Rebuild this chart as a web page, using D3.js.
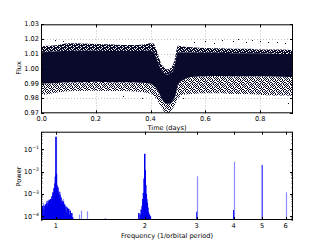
<!DOCTYPE html>
<html><head><meta charset="utf-8">
<script src="https://cdn.jsdelivr.net/npm/d3@7"></script>
<style>
body{margin:0;background:#fff;}
svg{display:block;font-family:"DejaVu Sans",sans-serif;}
</style></head>
<body><svg id="c" width="325" height="245"></svg>
<script>
// ---------- Top panel: light curve envelope ----------
const phase      = [0.00,0.03,0.06,0.10,0.15,0.20,0.25,0.30,0.35,0.38,0.40,0.41,0.42,0.43,0.44,0.45,0.46,0.47,0.48,0.49,0.495,0.50,0.52,0.55,0.60,0.65,0.70,0.75,0.80,0.85,0.90,0.92];
const upperOuter = [1.0150,1.0155,1.0160,1.0172,1.0170,1.0168,1.0165,1.0160,1.0160,1.0165,1.0172,1.0170,1.0135,1.0080,1.0030,1.0010,0.9995,1.0000,1.0020,1.0080,1.0130,1.0155,1.0150,1.0145,1.0140,1.0138,1.0135,1.0135,1.0130,1.0130,1.0128,1.0125];
const upperCore  = [1.0110,1.0115,1.0118,1.0120,1.0122,1.0122,1.0120,1.0120,1.0120,1.0122,1.0120,1.0115,1.0080,1.0030,0.9990,0.9970,0.9960,0.9970,0.9980,1.0040,1.0090,1.0110,1.0110,1.0110,1.0108,1.0108,1.0105,1.0105,1.0105,1.0102,1.0100,1.0100];
const lowerCore  = [0.9900,0.9902,0.9905,0.9910,0.9910,0.9912,0.9910,0.9910,0.9908,0.9905,0.9900,0.9890,0.9870,0.9840,0.9800,0.9775,0.9765,0.9765,0.9785,0.9815,0.9855,0.9895,0.9925,0.9945,0.9950,0.9952,0.9950,0.9950,0.9950,0.9948,0.9945,0.9945];
const lowerOuter = [0.9825,0.9830,0.9840,0.9848,0.9850,0.9852,0.9850,0.9850,0.9845,0.9840,0.9830,0.9820,0.9800,0.9770,0.9740,0.9710,0.9700,0.9705,0.9730,0.9760,0.9780,0.9800,0.9825,0.9830,0.9835,0.9835,0.9830,0.9830,0.9825,0.9820,0.9820,0.9815];
const strayPhase = [0.56,0.60,0.63,0.66,0.70,0.72,0.75,0.77,0.80,0.83,0.86,0.89,0.05,0.08,0.30,0.90,0.37,0.52];
const strayFlux  = [1.0180,1.0185,1.0175,1.0195,1.0190,1.0200,1.0182,1.0192,1.0185,1.0178,1.0183,1.0176,1.0195,1.0188,0.9815,0.9770,0.9805,0.9805];
const timeTicks  = [0.0,0.2,0.4,0.6,0.8];
const fluxTicks  = [0.97,0.98,0.99,1.00,1.01,1.02,1.03];

// ---------- Bottom panel: periodogram spikes ----------
const darkFreq  = [0.890,0.894,0.899,0.903,0.908,0.912,0.918,0.922,0.927,0.932,0.936,0.941,0.946,0.950,0.955,0.960,0.964,0.969,0.973,0.977,0.981,0.985,0.989,0.992,0.996,1.000,1.004,1.008,1.012,1.016,1.020,1.024,1.028,1.032,1.036,1.041,1.046,1.050,1.055,1.060,1.065,1.070,1.076,1.081,1.087,1.093,1.099,1.105,1.112,1.118,1.125,1.132,1.140,
                   1.47,1.91,1.93,1.945,1.96,1.97,1.98,1.99,2.00,2.008,2.016,2.024,2.032,2.04,2.05,2.06,2.075,2.09,
                   3.00,4.00,5.00];
const darkPower = [2.5e-4,1.5e-4,3e-4,2e-4,1.2e-4,3e-4,2.2e-4,3.5e-4,2.5e-4,4e-4,3e-4,5e-4,3.5e-4,5.5e-4,4e-4,6e-4,4.5e-4,8e-4,6e-4,1.2e-3,9e-4,1.8e-3,1.4e-3,3e-3,6e-3,0.37,8e-3,2.5e-3,1.5e-3,2e-3,1e-3,1.3e-3,6e-4,9e-4,5e-4,7e-4,3.5e-4,5e-4,3e-4,4.5e-4,2.5e-4,3.5e-4,2e-4,2.8e-4,1.5e-4,2.5e-4,1.3e-4,2.2e-4,1.2e-4,1.8e-4,1e-4,1.4e-4,9e-5,
                   8e-5,1.4e-4,1.2e-4,2e-4,3e-4,6e-4,1.1e-3,5e-3,0.063,1.2e-2,2.5e-3,1e-3,6e-4,4e-4,2.5e-4,1.5e-4,1.2e-4,1e-4,
                   1.6e-4,1.9e-4,0.02];
const lightFreq  = [0.905,0.925,0.958,0.975,1.000,1.03,1.06,1.20,1.22,1.27,3.00,4.00,6.00];
const lightPower = [4e-4,5e-4,6e-4,1e-3,0.37,1.2e-3,6e-4,1.2e-4,1.8e-4,1.7e-4,6.3e-3,0.028,1.2e-3];
const freqTicks  = [1,2,3,4,5,6];
const powerTicks = [1e-4,1e-3,1e-2,1e-1];

// ---------- layout ----------
const svg = d3.select("#c");
const L = 41, R = 293;
const T1 = 24.3, B1 = 113.3;
const T2 = 131.7, B2 = 220;
const fs = 6.6;
const navy = "#0a0a2c";

const defs = svg.append("defs");
function pattern(id, rows){
  const n = rows.length;
  const p = defs.append("pattern").attr("id", id).attr("width", n).attr("height", n)
    .attr("patternUnits", "userSpaceOnUse");
  rows.forEach((r, j) => r.split("").forEach((c, i) => {
    if (c === "1") p.append("rect").attr("x", i).attr("y", j).attr("width", 1).attr("height", 1).attr("fill", navy);
  }));
}
pattern("dense",  ["1101110","0111011","1110101","1011111","0110110","1111011","1010111"]);
pattern("sparse", ["1001010","0100101","1010010","0010101","1101000","0010110","0101001"]);
defs.append("clipPath").attr("id","clip1").append("rect").attr("x",L).attr("y",T1).attr("width",R-L).attr("height",B1-T1);
defs.append("clipPath").attr("id","clip2").append("rect").attr("x",L).attr("y",T2).attr("width",R-L).attr("height",B2-T2);

// ---------- top panel ----------
const x1 = d3.scaleLinear().domain([0, 0.92]).range([L, R]);
const y1 = d3.scaleLinear().domain([0.97, 1.03]).range([B1, T1]);

const g1 = svg.append("g");
g1.selectAll(".gx").data(timeTicks.slice(1)).join("line")
  .attr("x1", d => Math.round(x1(d))+0.5).attr("x2", d => Math.round(x1(d))+0.5)
  .attr("y1", T1).attr("y2", B1).attr("stroke", "#999").attr("stroke-width", 0.6).attr("stroke-dasharray", "1,2");
g1.selectAll(".gy").data(fluxTicks.slice(1, -1)).join("line")
  .attr("y1", d => Math.round(y1(d))+0.5).attr("y2", d => Math.round(y1(d))+0.5)
  .attr("x1", L).attr("x2", R).attr("stroke", "#999").attr("stroke-width", 0.6).attr("stroke-dasharray", "1,2");

const pts = phase.map((p, i) => ({p, uo: upperOuter[i], uc: upperCore[i], lc: lowerCore[i], lo: lowerOuter[i]}));
const cv = d3.curveMonotoneX;
const dataG = g1.append("g").attr("clip-path", "url(#clip1)");
dataG.append("path").datum(pts).attr("fill", "url(#sparse)")
  .attr("d", d3.area().curve(cv).x(d => x1(d.p)).y0(d => y1(d.lo)).y1(d => y1(d.lc)));
dataG.append("path").datum(pts).attr("fill", "url(#dense)")
  .attr("d", d3.area().curve(cv).x(d => x1(d.p)).y0(d => y1(d.uc)).y1(d => y1(d.uo)));
dataG.append("path").datum(pts).attr("fill", navy)
  .attr("d", d3.area().curve(cv).x(d => x1(d.p)).y0(d => y1(d.lc)).y1(d => y1(d.uc)));
dataG.selectAll(".stray").data(strayPhase.map((p, i) => [p, strayFlux[i]])).join("rect")
  .attr("x", d => Math.round(x1(d[0]))).attr("y", d => Math.round(y1(d[1])))
  .attr("width", 1).attr("height", 1).attr("fill", navy);

function frame(T, B){
  svg.append("rect").attr("x", L+0.5).attr("y", T+0.5).attr("width", R-L-1).attr("height", B-T-1)
    .attr("fill", "none").attr("stroke", "#000").attr("stroke-width", 1);
}
frame(T1, B1);

timeTicks.forEach(t => {
  const xx = Math.round(x1(t)) + 0.5;
  svg.append("line").attr("x1", xx).attr("x2", xx).attr("y1", B1).attr("y2", B1-3).attr("stroke", "#000");
  svg.append("line").attr("x1", xx).attr("x2", xx).attr("y1", T1).attr("y2", T1+3).attr("stroke", "#000");
  svg.append("text").attr("x", x1(t) + (t === 0 ? 0.8 : 0)).attr("y", 121.3).attr("text-anchor", "middle").attr("font-size", fs).text(d3.format(".1f")(t));
});
fluxTicks.forEach(t => {
  const yy = Math.round(y1(t)) + 0.5;
  svg.append("line").attr("x1", L).attr("x2", L+3).attr("y1", yy).attr("y2", yy).attr("stroke", "#000");
  svg.append("line").attr("x1", R).attr("x2", R-3).attr("y1", yy).attr("y2", yy).attr("stroke", "#000");
  svg.append("text").attr("x", 39).attr("y", y1(t) + (t === 0.97 ? 1.3 : 2.0)).attr("text-anchor", "end").attr("font-size", fs).text(d3.format(".2f")(t));
});
svg.append("text").attr("x", (L+R)/2).attr("y", 129.8).attr("text-anchor", "middle").attr("font-size", fs).text("Time (days)");
svg.append("text").attr("transform", "translate(20.6,68) rotate(-90)").attr("text-anchor", "middle").attr("font-size", fs).text("Flux");

// ---------- bottom panel ----------
const x2 = d3.scaleLog().domain([0.89, 6.36]).range([L, R]);
const y2 = d3.scaleLog().domain([6.8e-5, 0.62]).range([B2, T2]);
const g2 = svg.append("g").attr("clip-path", "url(#clip2)");
g2.selectAll(".lt").data(lightFreq.map((f, i) => [f, lightPower[i]])).join("line")
  .attr("x1", d => Math.round(x2(d[0]))+0.5).attr("x2", d => Math.round(x2(d[0]))+0.5)
  .attr("y1", B2).attr("y2", d => y2(d[1])).attr("stroke", "#8c8cff").attr("stroke-width", 1.2);
g2.selectAll(".dk").data(darkFreq.map((f, i) => [f, darkPower[i]])).join("line")
  .attr("x1", d => x2(d[0])).attr("x2", d => x2(d[0]))
  .attr("y1", B2).attr("y2", d => y2(d[1])).attr("stroke", "#0000ee")
  .attr("stroke-width", d => (d[0] < 1.2 || (d[0] > 1.9 && d[0] < 2.1)) ? 1.5 : 1);
frame(T2, B2);

freqTicks.forEach(t => {
  const xx = Math.round(x2(t)) + 0.5;
  svg.append("line").attr("x1", xx).attr("x2", xx).attr("y1", B2).attr("y2", B2-3).attr("stroke", "#000");
  svg.append("line").attr("x1", xx).attr("x2", xx).attr("y1", T2).attr("y2", T2+3).attr("stroke", "#000");
  svg.append("text").attr("x", x2(t)).attr("y", 228.3).attr("text-anchor", "middle").attr("font-size", fs).text(t);
});
const minor = [];
[1e-5,1e-4,1e-3,1e-2,1e-1].forEach(dec => { for (let k = 2; k <= 9; k++) minor.push(dec*k); });
minor.filter(v => v > 6.8e-5 && v < 0.62).forEach(v => {
  const yy = Math.round(y2(v)) + 0.5;
  svg.append("line").attr("x1", L).attr("x2", L+1.5).attr("y1", yy).attr("y2", yy).attr("stroke", "#000").attr("stroke-width", 0.7);
  svg.append("line").attr("x1", R).attr("x2", R-1.5).attr("y1", yy).attr("y2", yy).attr("stroke", "#000").attr("stroke-width", 0.7);
});
powerTicks.forEach(t => {
  const yy = Math.round(y2(t)) + 0.5;
  svg.append("line").attr("x1", L).attr("x2", L+3).attr("y1", yy).attr("y2", yy).attr("stroke", "#000");
  svg.append("line").attr("x1", R).attr("x2", R-3).attr("y1", yy).attr("y2", yy).attr("stroke", "#000");
  const tx = svg.append("text").attr("x", 39).attr("y", y2(t)+2.5).attr("text-anchor", "end").attr("font-size", fs);
  tx.append("tspan").text("10");
  tx.append("tspan").attr("dy", -2.8).attr("font-size", 4.6).text("\u2212" + Math.round(-Math.log10(t)));
});
svg.append("text").attr("x", (L+R)/2).attr("y", 237.6).attr("text-anchor", "middle").attr("font-size", fs).text("Frequency (1/orbital period)");
svg.append("text").attr("transform", "translate(20.6,176.5) rotate(-90)").attr("text-anchor", "middle").attr("font-size", fs).text("Power");
</script></body></html>
